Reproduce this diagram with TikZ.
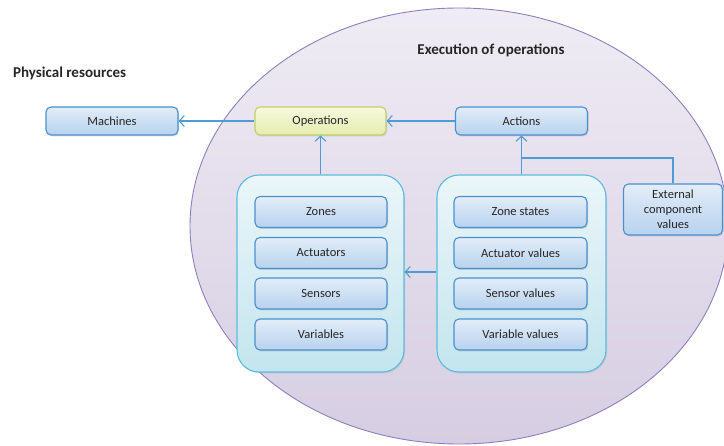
\documentclass[tikz,border=0pt]{standalone}
\usepackage{fontspec}
\setmainfont{Carlito}
\usetikzlibrary{arrows.meta,shadows,calc}

\definecolor{linkblue}{HTML}{4F9BD6}
\definecolor{boxedge}{HTML}{4A90CE}
\definecolor{boxtop}{HTML}{E2EDF8}
\definecolor{boxbot}{HTML}{B8D2EE}
\definecolor{optop}{HTML}{F6F9DE}
\definecolor{opbot}{HTML}{E4EDAE}
\definecolor{opedge}{HTML}{BFCF6E}
\definecolor{grptop}{HTML}{EBF6F9}
\definecolor{grpbot}{HTML}{C3E5EE}
\definecolor{grpedge}{HTML}{5DBCDD}
\definecolor{elltop}{HTML}{EFECF4}
\definecolor{ellbot}{HTML}{D6CDE2}
\definecolor{elledge}{HTML}{8C80BE}
\definecolor{txt}{HTML}{262626}

\tikzset{
  box/.style={draw=boxedge, line width=1.1pt, rounded corners=5pt,
    top color=boxtop, bottom color=boxbot, text=txt, font=\fontsize{12.5}{14}\selectfont,
    inner sep=0pt, align=center,
    drop shadow={opacity=0.25, shadow xshift=1pt, shadow yshift=-1.5pt}},
  opbox/.style={box, draw=opedge, top color=optop, bottom color=opbot},
  group/.style={draw=grpedge, line width=1.1pt, rounded corners=22pt,
    top color=grptop, bottom color=grpbot,
    drop shadow={opacity=0.2, shadow xshift=1pt, shadow yshift=-1.5pt}},
  link/.style={draw=linkblue, line width=1.1pt},
  arr/.style={link, -{Straight Barb[length=5pt,width=11pt,line width=1.1pt]}},
  heading/.style={font=\fontsize{15}{17}\bfseries\selectfont, text=txt, inner sep=0pt}
}

\begin{document}
\begin{tikzpicture}[x=1pt,y=-1pt]
  \useasboundingbox (0,0) rectangle (724,446);
  \fill[white] (0,0) rectangle (724,446);

  % execution domain
  \begin{scope}
    \clip (0,0) rectangle (724,446);
    \shade[top color=elltop, bottom color=ellbot, draw=elledge, line width=0.9pt]
      (459,226) ellipse [x radius=269, y radius=218];
  \end{scope}

  \node[heading, anchor=west] (phys) at (13,73) {Physical resources};
  \node[heading] (exec) at (491,50) {Execution of operations};

  % top row
  \node[box, minimum width=132, minimum height=28] (mach) at (112,121) {Machines};
  \node[opbox, minimum width=131, minimum height=28] (ops) at (320.5,121) {Operations};
  \node[box, minimum width=132, minimum height=28] (act) at (521.5,121) {Actions};

  % groups
  \node[group, minimum width=167, minimum height=197] (lgrp) at (320.5,273.5) {};
  \node[group, minimum width=169, minimum height=197] (rgrp) at (521.5,273.5) {};

  \node[box, minimum width=132, minimum height=31] (zones) at (321,212) {Zones};
  \node[box, minimum width=132, minimum height=31] (actu) at (321,253) {Actuators};
  \node[box, minimum width=132, minimum height=31] (sens) at (321,293.5) {Sensors};
  \node[box, minimum width=132, minimum height=31] (vars) at (321,334.5) {Variables};

  \node[box, minimum width=133, minimum height=31] (zst) at (520.5,212) {Zone states};
  \node[box, minimum width=133, minimum height=31] (actv) at (520.5,253) {Actuator values};
  \node[box, minimum width=133, minimum height=31] (senv) at (520.5,293.5) {Sensor values};
  \node[box, minimum width=133, minimum height=31] (varv) at (520.5,334.5) {Variable values};

  \node[box, minimum width=99, minimum height=51, font=\fontsize{12.5}{15}\selectfont] (ext) at (673,209.5)
    {External\\component\\values};

  % connectors
  \coordinate (join) at (rgrp.north |- 0,158);
  \draw[arr] (ops.west) -- (mach.east);
  \draw[arr] (act.west) -- (ops.east);
  \draw[arr] (lgrp.north) -- (ops.south);
  \draw[arr] (rgrp.north) -- (act.south);
  \draw[link] (ext.north) |- (join);
  \draw[arr] ($(rgrp.west)+(0,-1.5)$) -- ($(lgrp.east)+(0,-1.5)$);
\end{tikzpicture}
\end{document}
